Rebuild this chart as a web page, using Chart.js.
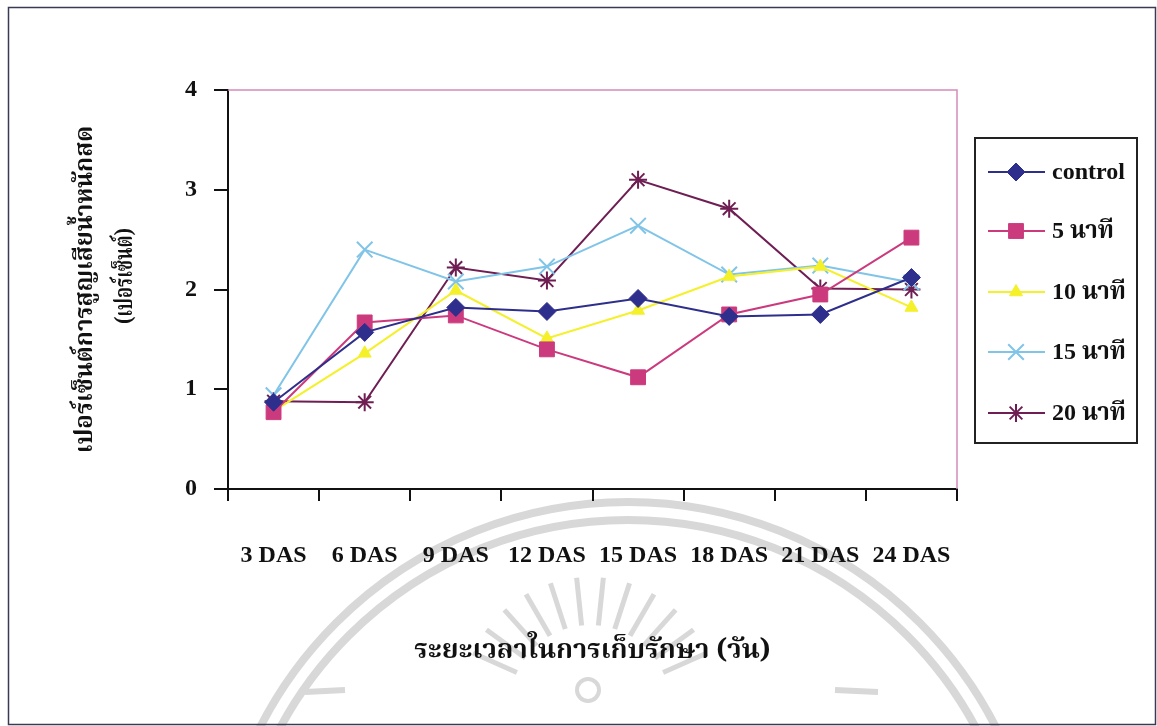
<!DOCTYPE html>
<html>
<head>
<meta charset="utf-8">
<script src="https://cdn.jsdelivr.net/npm/chart.js@4.4.1/dist/chart.umd.min.js"></script>
<style>
  html, body { margin: 0; padding: 0; background: #ffffff; }
  #wrap { width: 1157px; height: 726px; position: relative; }
</style>
</head>
<body>
<div id="wrap"><canvas id="c" width="1157" height="726"></canvas></div>
<script>
// Storage time (days after storage) and weight-loss percentages per treatment
const categories = ['3 DAS', '6 DAS', '9 DAS', '12 DAS', '15 DAS', '18 DAS', '21 DAS', '24 DAS'];
const seriesNames = ['control', '5 นาที', '10 นาที', '15 นาที', '20 นาที'];
const control = [0.87, 1.57, 1.82, 1.78, 1.91, 1.73, 1.75, 2.12];
const min5    = [0.77, 1.67, 1.74, 1.40, 1.12, 1.75, 1.95, 2.52];
const min10   = [0.78, 1.36, 1.99, 1.51, 1.79, 2.13, 2.23, 1.82];
const min15   = [0.94, 2.40, 2.08, 2.23, 2.64, 2.15, 2.24, 2.07];
const min20   = [0.88, 0.87, 2.22, 2.09, 3.10, 2.81, 2.01, 2.00];
const yTicks  = [0, 1, 2, 3, 4];
const yTitle  = 'เปอร์เซ็นต์การสูญเสียน้ำหนักสด';
const yUnit   = '(เปอร์เซ็นต์)';
const xTitle  = 'ระยะเวลาในการเก็บรักษา (วัน)';

const SERIF = '"Liberation Serif", "Times New Roman", "Noto Serif Thai", "Noto Sans Thai", serif';
const THAI = '"Noto Serif Thai", "Noto Sans Thai", "Liberation Serif", serif';

const styles = [
  { color: '#2e2e8c', point: 'rectRot',  radius: 9,    bw: 1 },
  { color: '#cc3a7e', point: 'rect',     radius: 10.5, bw: 1 },
  { color: '#f4f02a', point: 'triangle', radius: 7.5,  bw: 1 },
  { color: '#80c4e8', point: 'crossRot', radius: 11,   bw: 2 },
  { color: '#6e1e52', point: 'star',     radius: 9,    bw: 2 }
];
const values = [control, min5, min10, min15, min20];

const datasets = values.map((v, i) => ({
  label: seriesNames[i],
  data: v,
  borderColor: styles[i].color,
  backgroundColor: styles[i].color,
  pointBackgroundColor: styles[i].color,
  pointBorderColor: styles[i].color,
  pointStyle: styles[i].point,
  pointRadius: styles[i].radius,
  pointBorderWidth: styles[i].bw,
  borderWidth: 2,
  tension: 0,
  fill: false
}));

// Outer frame, faint emblem behind the chart, pink plot border, unit line, boxed legend
const decorations = {
  id: 'decorations',
  beforeDraw(chart) {
    const ctx = chart.ctx;
    ctx.save();
    ctx.fillStyle = '#ffffff';
    ctx.fillRect(0, 0, chart.width, chart.height);
    // faint emblem: two rings, sun rays and a few strokes near the bottom
    ctx.strokeStyle = '#d8d8d8';
    ctx.lineWidth = 8;
    const cx = 628, cy = 915;
    [413, 395].forEach(r => {
      ctx.beginPath();
      ctx.arc(cx, cy, r, Math.PI * 1.0, Math.PI * 2.0);
      ctx.stroke();
    });
    ctx.lineWidth = 5;
    const ex = 590, ey = 705;
    for (let a = -156; a <= -24; a += 12) {
      const t = a * Math.PI / 180;
      ctx.beginPath();
      ctx.moveTo(ex + Math.cos(t) * 80, ey + Math.sin(t) * 80);
      ctx.lineTo(ex + Math.cos(t) * 128, ey + Math.sin(t) * 128);
      ctx.stroke();
    }
    ctx.lineWidth = 6;
    ctx.beginPath();
    ctx.moveTo(305, 692); ctx.lineTo(345, 690);
    ctx.moveTo(835, 690); ctx.lineTo(878, 692);
    ctx.stroke();
    ctx.lineWidth = 4;
    ctx.beginPath();
    ctx.arc(588, 690, 11, 0, Math.PI * 2);
    ctx.stroke();
    ctx.restore();
  },
  afterDraw(chart) {
    const ctx = chart.ctx;
    const a = chart.chartArea;
    ctx.save();
    // outer frame
    ctx.strokeStyle = '#3a3a55';
    ctx.lineWidth = 1.5;
    ctx.strokeRect(8.5, 7.5, 1147, 717);
    // top and right edges of the plot area
    ctx.strokeStyle = '#d58bb8';
    ctx.lineWidth = 1.5;
    ctx.beginPath();
    ctx.moveTo(a.left, a.top);
    ctx.lineTo(a.right, a.top);
    ctx.lineTo(a.right, a.bottom);
    ctx.stroke();

    // second line of the y-axis title (unit), set in a condensed width
    ctx.save();
    ctx.translate(128, 276);
    ctx.rotate(-Math.PI / 2);
    ctx.scale(0.76, 1);
    ctx.fillStyle = '#111111';
    ctx.font = 'bold 24px ' + THAI;
    ctx.textAlign = 'center';
    ctx.textBaseline = 'middle';
    ctx.fillText(yUnit, 0, 0);
    ctx.restore();

    // legend box
    const lx = 975, ly = 138, lw = 162, lh = 305;
    ctx.strokeStyle = '#222222';
    ctx.lineWidth = 2;
    ctx.strokeRect(lx, ly, lw, lh);
    const rows = [172, 231, 292, 352, 413];
    chart.data.datasets.forEach((ds, i) => {
      const y = rows[i];
      ctx.strokeStyle = ds.borderColor;
      ctx.lineWidth = 2;
      ctx.beginPath();
      ctx.moveTo(988, y);
      ctx.lineTo(1045, y);
      ctx.stroke();
      ctx.fillStyle = ds.pointBackgroundColor;
      ctx.strokeStyle = ds.pointBorderColor;
      ctx.lineWidth = ds.pointBorderWidth;
      Chart.helpers.drawPoint(ctx, { pointStyle: ds.pointStyle, radius: ds.pointRadius, rotation: 0, borderWidth: ds.pointBorderWidth }, 1016, y);
      ctx.fillStyle = '#111111';
      ctx.font = 'bold 24px ' + SERIF;
      ctx.textBaseline = 'middle';
      ctx.textAlign = 'left';
      ctx.fillText(ds.label, 1052, y + 1);
    });
    ctx.restore();
  }
};

new Chart(document.getElementById('c'), {
  type: 'line',
  data: { labels: categories, datasets },
  options: {
    responsive: false,
    animation: false,
    layout: { padding: { left: 0, top: 90, right: 200, bottom: 47 } },
    plugins: { legend: { display: false }, tooltip: { enabled: false } },
    scales: {
      x: {
        offset: true,
        grid: { offset: true, drawOnChartArea: false, drawTicks: true, tickLength: 12, color: '#111111', lineWidth: 2 },
        border: { display: true, color: '#111111', width: 2 },
        ticks: { color: '#111111', padding: 40, font: { family: SERIF, size: 24, weight: 'bold' }, maxRotation: 0, autoSkip: false },
        title: { display: true, text: xTitle, color: '#111111', font: { family: THAI, size: 27, weight: 'bold' }, padding: { top: 0, bottom: 9 } },
        afterFit(scale) { scale.height = 190; }
      },
      y: {
        min: 0, max: 4,
        afterBuildTicks(scale) { scale.ticks = yTicks.map(v => ({ value: v })); },
        grid: { drawOnChartArea: false, drawTicks: true, tickLength: 14, color: '#111111', lineWidth: 2 },
        border: { display: true, color: '#111111', width: 2 },
        ticks: { color: '#111111', padding: 17, font: { family: SERIF, size: 24, weight: 'bold' } },
        title: { display: true, text: yTitle, color: '#111111', font: { family: THAI, size: 24, weight: 'bold', lineHeight: 1.2 }, padding: { top: 74, bottom: 0 } },
        afterFit(scale) { scale.width = 228; }
      }
    }
  },
  plugins: [decorations]
});
</script>
</body>
</html>
